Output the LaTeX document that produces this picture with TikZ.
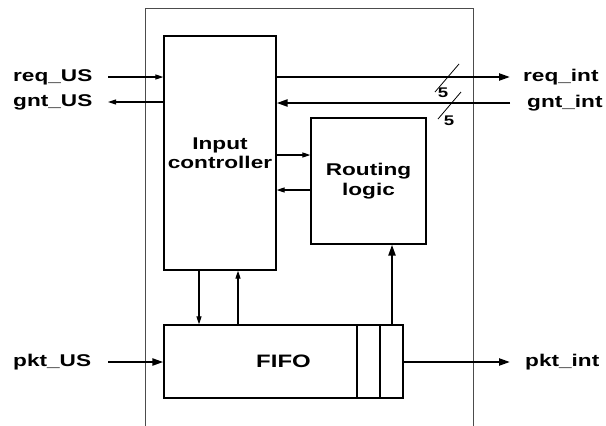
\documentclass[tikz,border=0pt]{standalone}
\usepackage{fontspec}
\newfontfamily\diagfont[FakeStretch=1.33]{Liberation Sans}
\usetikzlibrary{arrows.meta, positioning, calc}

\begin{document}
\begin{tikzpicture}[
    x=1pt, y=-1pt,
    box/.style={rectangle, draw, line width=1.3pt, align=center, font=\diagfont\bfseries\fontsize{17}{19.5}\selectfont, inner sep=0pt},
    lbl/.style={font=\diagfont\bfseries\fontsize{17}{19.5}\selectfont, inner sep=0pt},
    sig/.style={line width=1.1pt, -{Triangle[length=8pt, width=5pt]}},
    bus/.style={line width=2.2pt, -{Triangle[length=11pt, width=7pt]}}
]
\useasboundingbox (0,0) rectangle (606,426);
% outer module
\draw[line width=1pt, black!70] (145,426) -- (145,8) -- (473,8) -- (473,426);
% blocks
\node[box, minimum width=112pt, minimum height=234pt] (ctrl) at (220,153) {Input\\controller};
\node[box, minimum width=115pt, minimum height=126pt] (route) at (368.5,181) {Routing\\logic};
\node[box, minimum width=239pt, minimum height=73pt, font=\diagfont\bfseries\fontsize{18}{20}\selectfont] (fifo) at (283.5,361.5) {FIFO};
\draw[line width=1.1pt] (357,325) -- (357,398);
\draw[line width=1.1pt] (380,325) -- (380,398);
% port labels
\node[lbl, anchor=west] (reqUS) at (13,77) {req\_US};
\node[lbl, anchor=west] (gntUS) at (13,102) {gnt\_US};
\node[lbl, anchor=west] (pktUS) at (13,362) {pkt\_US};
\node[lbl, anchor=west] (reqint) at (523,77) {req\_int};
\node[lbl, anchor=west] (gntint) at (527,103) {gnt\_int};
\node[lbl, anchor=west] (pktint) at (525,362) {pkt\_int};
% free ends
\coordinate (reqUSend) at (108,77);
\coordinate (gntUSend) at (108,102);
\coordinate (pktUSend) at (108,362);
\coordinate (reqintend) at (510,77);
\coordinate (gntintend) at (510,103);
\coordinate (pktintend) at (510,362);
% upstream side
\draw[sig] (reqUSend) -- (reqUSend -| ctrl.west);
\draw[sig] (gntUSend -| ctrl.west) -- (gntUSend);
\draw[bus] (pktUSend) -- (pktUSend -| fifo.west);
% internal side
\draw[bus] (reqintend -| ctrl.east) -- (reqintend);
\draw[bus] (gntintend) -- (gntintend -| ctrl.east);
\draw[bus] (fifo.east |- pktintend) -- (pktintend);
% bus width marks
\draw[line width=0.8pt] (435,92) -- (459,64);
\node[lbl, font=\diagfont\bfseries\fontsize{14}{16}\selectfont] (w1) at (443,93) {5};
\draw[line width=0.8pt] (438,119) -- (461,92);
\node[lbl, font=\diagfont\bfseries\fontsize{14}{16}\selectfont] (w2) at (449,121) {5};
% controller <-> routing
\draw[sig] (ctrl.east |- 0,155) -- (route.west |- 0,155);
\draw[sig] (route.west |- 0,190) -- (ctrl.east |- 0,190);
% controller <-> fifo
\draw[sig] (ctrl.south -| 199,0) -- (fifo.north -| 199,0);
\draw[sig] (fifo.north -| 238,0) -- (ctrl.south -| 238,0);
% fifo -> routing
\draw[bus] (fifo.north -| 392,0) -- (route.south -| 392,0);
\end{tikzpicture}
\end{document}
